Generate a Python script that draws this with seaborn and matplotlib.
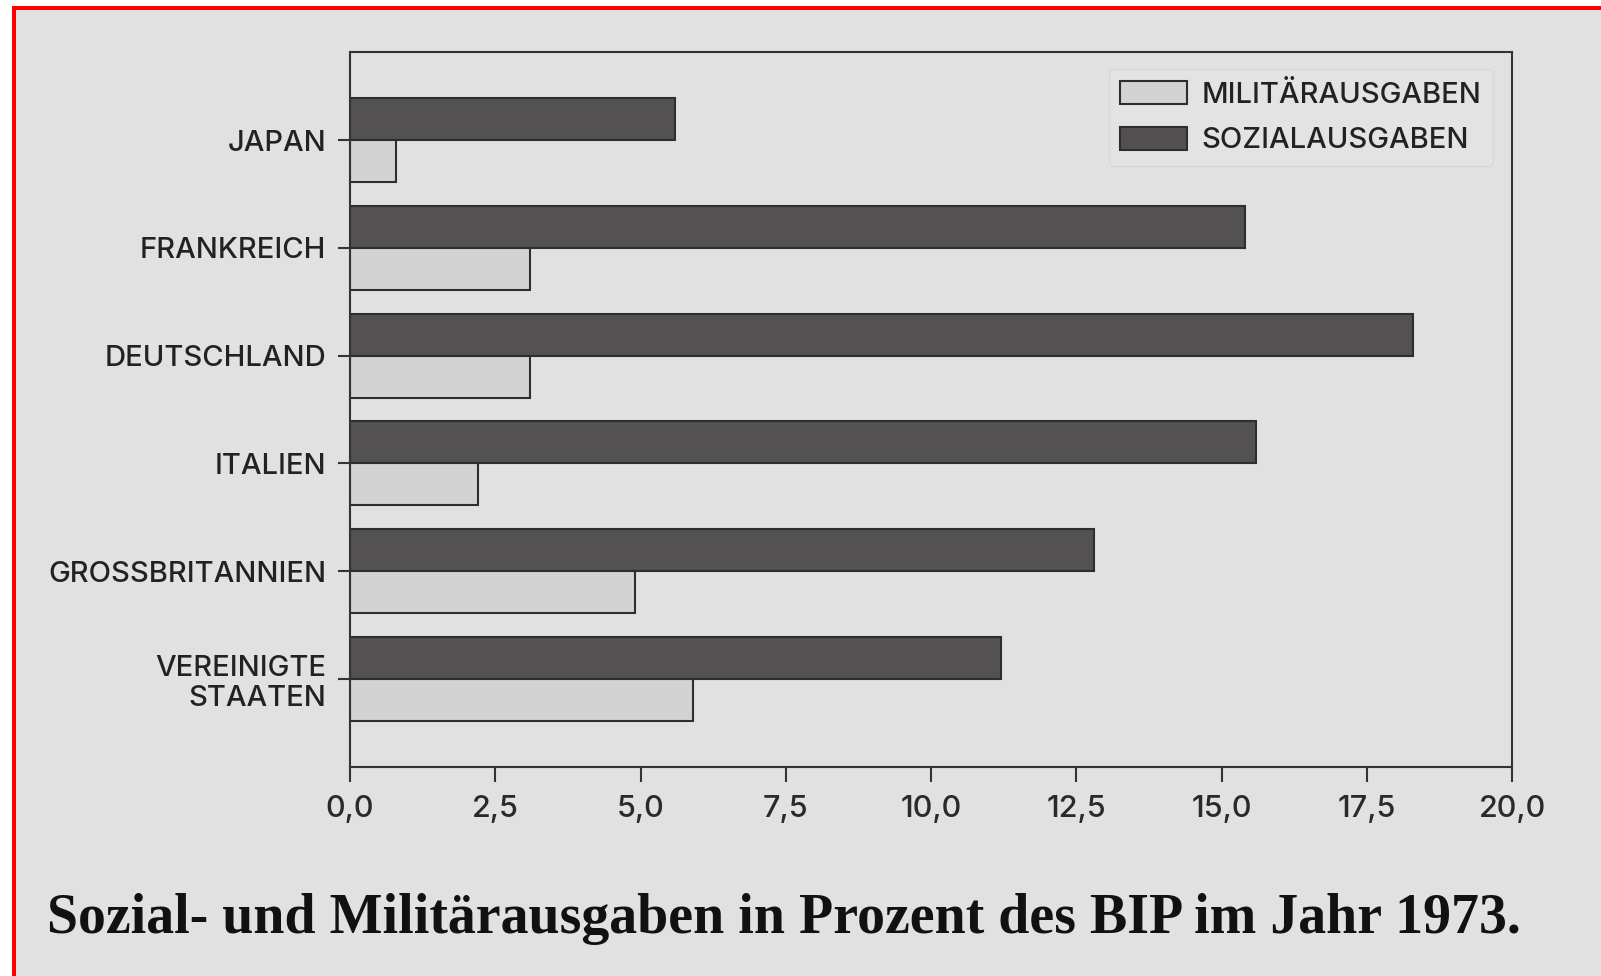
import pandas as pd
import seaborn as sns
import matplotlib.pyplot as plt
from matplotlib.patches import Patch, Rectangle
from matplotlib.ticker import FuncFormatter

laender = ["JAPAN", "FRANKREICH", "DEUTSCHLAND", "ITALIEN",
           "GROSSBRITANNIEN", "VEREINIGTE\nSTAATEN"]
sozialausgaben = [5.6, 15.4, 18.3, 15.6, 12.8, 11.2]
militaerausgaben = [0.8, 3.1, 3.1, 2.2, 4.9, 5.9]

SOZ = "SOZIALAUSGABEN"
MIL = "MILITÄRAUSGABEN"
farben = {SOZ: "#545051", MIL: "#d3d3d3"}
bg = "#e1e1e1"

df = pd.DataFrame({
    "land": laender * 2,
    "wert": sozialausgaben + militaerausgaben,
    "art": [SOZ] * len(laender) + [MIL] * len(laender),
})

sns.set_style("ticks")
plt.rcParams["font.family"] = ["Inter", "DejaVu Sans"]
plt.rcParams["font.weight"] = "medium"

fig = plt.figure(figsize=(16.01, 9.76), dpi=100, facecolor="white")
W, H = 1601, 976
# grauer Hintergrund mit rotem Rand oben und links
fig.patches.append(Rectangle((12 / W, 0), 1, 1 - 6 / H, transform=fig.transFigure,
                             facecolor=bg, edgecolor="none", zorder=-2))
fig.patches.append(Rectangle((12 / W, 1 - 10 / H), 1, 4 / H, transform=fig.transFigure,
                             facecolor="#ff0000", edgecolor="none", zorder=-1))
fig.patches.append(Rectangle((12 / W, 0), 3.5 / W, 1 - 6 / H, transform=fig.transFigure,
                             facecolor="#ff0000", edgecolor="none", zorder=-1))

ax = fig.add_axes([350 / W, 1 - 767 / H, (1512 - 350) / W, (767 - 52) / H])
ax.set_facecolor(bg)

sns.barplot(data=df, x="wert", y="land", hue="art", hue_order=[SOZ, MIL],
            palette=farben, orient="h", width=0.78, edgecolor="#2e2e2e",
            linewidth=1.5, legend=False, ax=ax)

ax.set_xlim(0, 20)
ax.set_ylim(5.82, -0.82)
ax.set_xticks([0, 2.5, 5, 7.5, 10, 12.5, 15, 17.5, 20])
ax.xaxis.set_major_formatter(FuncFormatter(lambda v, _: f"{v:.1f}".replace(".", ",")))
ax.set_xlabel("")
ax.set_ylabel("")

for s in ax.spines.values():
    s.set_visible(True)
    s.set_color("#333333")
    s.set_linewidth(1.5)

ax.tick_params(axis="x", length=11, width=1.5, color="#333333", pad=9,
               labelsize=22, labelcolor="#2a2a2a")
ax.tick_params(axis="y", length=9, width=1.5, color="#333333", pad=8,
               labelsize=21, labelcolor="#222222")
for lbl in ax.get_yticklabels():
    lbl.set_linespacing(1.15)
    lbl.set_horizontalalignment("right")
    lbl.set_multialignment("right")

handles = [Patch(facecolor=farben[MIL], edgecolor="#2e2e2e", linewidth=1.5, label=MIL),
           Patch(facecolor=farben[SOZ], edgecolor="#2e2e2e", linewidth=1.5, label=SOZ)]
leg = ax.legend(handles=handles, loc="upper right", bbox_to_anchor=(0.984, 0.976),
                borderaxespad=0, fontsize=21, handlelength=2.3, handleheight=0.85,
                handletextpad=0.5, labelspacing=0.62, borderpad=0.4, frameon=True,
                fancybox=True, facecolor="#e3e3e3", edgecolor="#d8d8d8", framealpha=1,
                labelcolor="#222222")

fig.text(47 / W, 1 - 933 / H, "Sozial- und Militärausgaben in Prozent des BIP im Jahr 1973.",
         fontsize=40.2, fontweight="bold", family=["Liberation Serif", "DejaVu Serif"],
         color="#111111", ha="left", va="baseline")

fig.savefig("out.png", dpi=100, facecolor=fig.get_facecolor())
